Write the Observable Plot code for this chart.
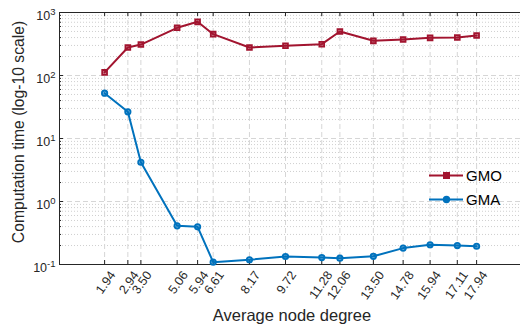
<!DOCTYPE html>
<html><head><meta charset="utf-8">
<script src="https://cdn.jsdelivr.net/npm/d3@7"></script>
<script src="https://cdn.jsdelivr.net/npm/@observablehq/plot@0.6"></script>
<style>
body{margin:0;background:#fff;}
#wrap{position:relative;width:520px;height:332px;overflow:hidden;font-family:"Liberation Sans",Arial,sans-serif;}
#legend{position:absolute;left:428px;top:164px;font-size:15px;color:#000;line-height:23.5px;}
#legend div{display:flex;align-items:center;}
#legend svg{margin-right:2px;}
</style>
</head><body>
<div id="wrap"><div id="legend"></div></div>
<script>
const degree = [1.94, 2.94, 3.50, 5.06, 5.94, 6.61, 8.17, 9.72, 11.28, 12.06, 13.50, 14.78, 15.94, 17.11, 17.94];
const gmo = [112, 278, 310, 571, 711, 453, 278, 296, 314, 499, 355, 373, 396, 401, 431];
const gma = [52.4, 26.5, 4.2, 0.411, 0.396, 0.109, 0.119, 0.134, 0.129, 0.126, 0.135, 0.182, 0.206, 0.200, 0.195];
const xTicks = degree;
const yMajor = [0.1, 1, 10, 100, 1000];
const yMinor = [0.2,0.3,0.4,0.5,0.6,0.7,0.8,0.9, 2,3,4,5,6,7,8,9, 20,30,40,50,60,70,80,90, 200,300,400,500,600,700,800,900];
const yExp = {0.1:"-1", 1:"0", 10:"1", 100:"2", 1000:"3"};
const seriesNames = ["GMO", "GMA"];
const colors = ["#A2142F", "#0072BD"];

const data = [];
degree.forEach((d, i) => {
  data.push({x: d, y: gmo[i], s: "GMO"});
  data.push({x: d, y: gma[i], s: "GMA"});
});

const W = 520, H = 332, mL = 59, mT = 12, mB = 68, mR = 0;
const fw = W - mL - mR, fh = H - mT - mB;
const ink = "#262626";

const chart = Plot.plot({
  width: W, height: H,
  marginLeft: mL, marginTop: mT, marginBottom: mB, marginRight: mR,
  style: {fontFamily: '"Liberation Sans", Arial, sans-serif', fontSize: "12px", color: ink, background: "#fff"},
  x: {type: "linear", domain: [0, 20], range: [mL, mL + 465]},
  y: {type: "log", domain: [0.1, 1000]},
  color: {domain: seriesNames, range: colors},
  marks: [
    Plot.ruleY(yMinor, {stroke: "#cfcfcf", strokeDasharray: "1,2", strokeWidth: 1}),
    Plot.ruleY(yMajor, {stroke: "#d6d6d6", strokeDasharray: "5,3", strokeWidth: 1}),
    Plot.ruleX(xTicks, {stroke: "#d6d6d6", strokeDasharray: "5,3", strokeWidth: 1}),
    Plot.ruleY(yMinor, {stroke: ink, insetRight: fw - 2}),
    Plot.ruleY(yMajor, {stroke: ink, insetRight: fw - 4}),
    Plot.ruleX(xTicks, {stroke: ink, insetTop: fh - 4}),
    Plot.ruleX(xTicks, {stroke: ink, insetBottom: fh - 4}),
    Plot.ruleY([1000], {stroke: ink}),
    Plot.ruleY([0.1], {stroke: ink}),
    Plot.ruleX([0], {stroke: ink}),
    Plot.axisX({ticks: xTicks, tickFormat: d3.format(".2f"), tickSize: 0, tickPadding: 8, tickRotate: -55, dx: 8, fontSize: 12.5, fill: ink, label: null}),
    Plot.axisY({ticks: yMajor, tickFormat: d => "10^" + yExp[d], tickSize: 0, tickPadding: 4, dy: 3, fontSize: 12.5, fill: ink, label: null}),
    Plot.line(data, {x: "x", y: "y", z: "s", stroke: "s", strokeWidth: 2}),
    Plot.dot(data.filter(d => d.s === "GMO"), {x: "x", y: "y", symbol: "square", r: 2.7, stroke: colors[0], fill: colors[0], fillOpacity: 0.55, strokeWidth: 1.8}),
    Plot.dot(data.filter(d => d.s === "GMA"), {x: "x", y: "y", symbol: "circle", r: 2.7, stroke: colors[1], fill: colors[1], fillOpacity: 0.55, strokeWidth: 1.8}),
    Plot.text(["Computation time (log-10 scale)"], {frameAnchor: "left", textAnchor: "middle", rotate: -90, dx: -40.5, dy: -6.5, fontSize: 15.7, fill: ink}),
    Plot.text(["Average node degree"], {frameAnchor: "bottom", textAnchor: "middle", dy: 56, dx: 2, fontSize: 16.5, fill: ink})
  ]
});

// superscript exponents on y tick labels
d3.select(chart).selectAll('g[aria-label="y-axis tick label"] text').each(function() {
  const t = d3.select(this);
  const s = t.text();
  const exp = s.split("^")[1];
  t.text("10");
  t.append("tspan").attr("dy", "-5").attr("font-size", "9.5").text(exp);
});

document.getElementById("wrap").prepend(chart);

const leg = document.getElementById("legend");
seriesNames.forEach((n, i) => {
  const row = document.createElement("div");
  const mk = i === 0
    ? `<rect x="15" y="5" width="7" height="7" fill="${colors[i]}"/>`
    : `<circle cx="18.5" cy="8.5" r="3.7" fill="${colors[i]}"/>`;
  row.innerHTML = `<svg width="36" height="17"><line x1="1" x2="35" y1="8.5" y2="8.5" stroke="${colors[i]}" stroke-width="2"/>${mk}</svg><span>${n}</span>`;
  leg.appendChild(row);
});
</script>
</body></html>
